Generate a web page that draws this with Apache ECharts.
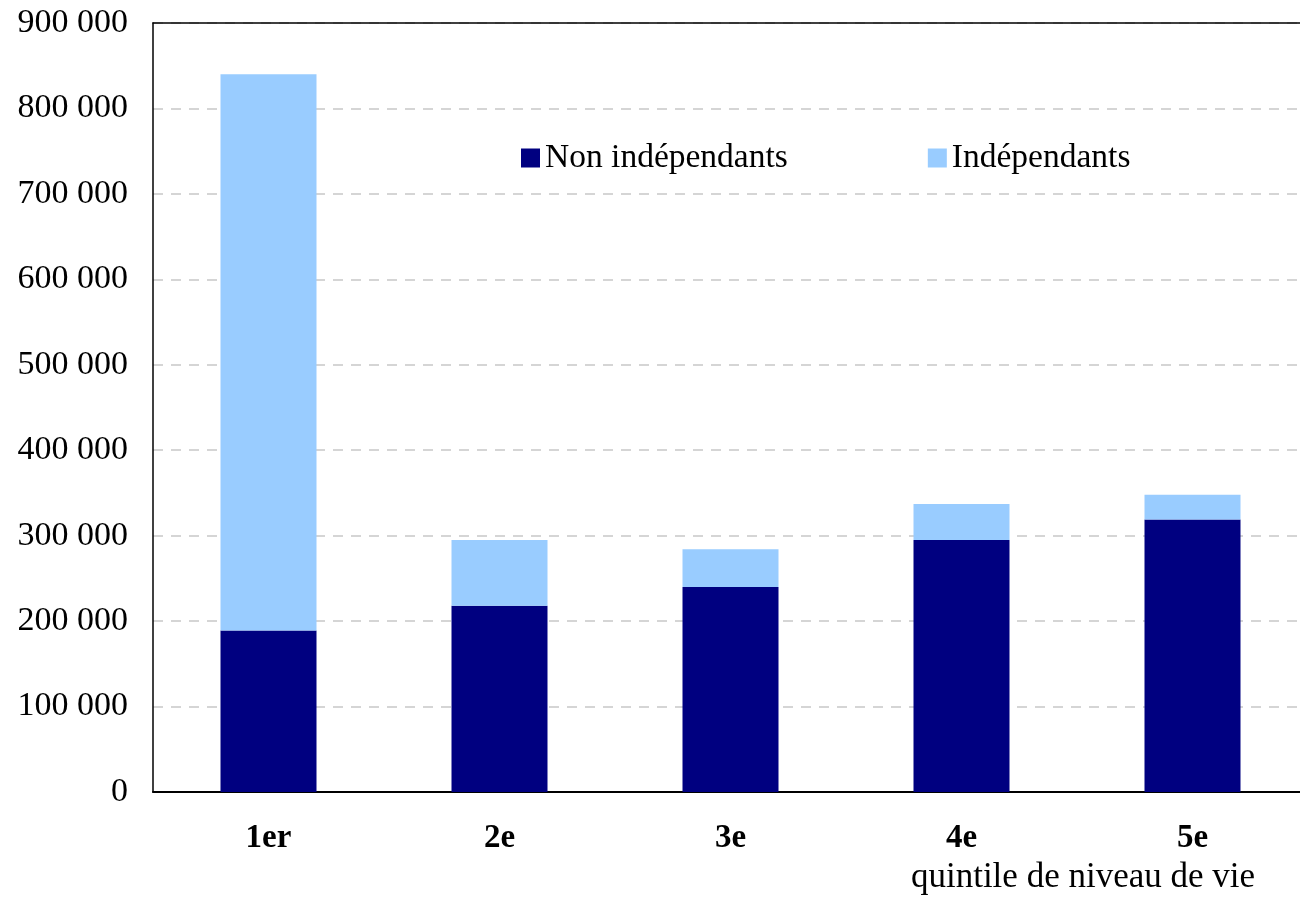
<!DOCTYPE html>
<html>
<head>
<meta charset="utf-8">
<script src="https://cdn.jsdelivr.net/npm/echarts@6/dist/echarts.min.js"></script>
<style>
  html, body { margin: 0; padding: 0; background: #fff; }
  #chart { width: 1300px; height: 915px; }
</style>
</head>
<body>
<div id="chart"></div>
<script>
const categories = ['1er', '2e', '3e', '4e', '5e']
const nonIndependants = [189000, 218000, 240000, 295000, 319000]
const independants = [651000, 77000, 44000, 42000, 29000]
const yTicks = [0, 100000, 200000, 300000, 400000, 500000, 600000, 700000, 800000, 900000]

const fontFamily = '"Liberation Serif", "Times New Roman", serif'

// 900000 -> "900 000"
function fmt(v) {
  return String(v).replace(/\B(?=(\d{3})+(?!\d))/g, ' ')
}

let option = {
  animation: false,
  grid: {
    left: 153,
    top: 23,
    width: 1155,
    height: 769,
    outerBoundsMode: 'none',
    containLabel: false
  },
  legend: {
    data: ['Non indépendants', 'Indépendants'],
    left: 516,
    top: 136,
    icon: 'rect',
    itemWidth: 19,
    itemHeight: 19,
    itemGap: 140,
    textStyle: {
      fontFamily: fontFamily,
      fontSize: 33.5,
      color: '#000'
    }
  },
  xAxis: [
    {
      type: 'category',
      data: categories,
      axisTick: { show: false },
      axisLine: {
        lineStyle: { color: '#000', width: 2 }
      },
      axisLabel: {
        margin: 30,
        fontFamily: fontFamily,
        fontSize: 33,
        fontWeight: 'bold',
        color: '#000'
      }
    },
    {
      // top border of the plot
      type: 'category',
      position: 'top',
      data: categories,
      axisTick: { show: false },
      axisLabel: { show: false },
      axisLine: {
        lineStyle: { color: '#000', width: 1.5 }
      }
    }
  ],
  yAxis: {
    type: 'value',
    min: yTicks[0],
    max: yTicks[yTicks.length - 1],
    interval: 100000,
    axisLine: {
      show: true,
      lineStyle: { color: '#000', width: 1.5 }
    },
    axisTick: { show: false },
    axisLabel: {
      margin: 25,
      fontFamily: fontFamily,
      fontSize: 34,
      color: '#000',
      formatter: fmt
    },
    splitLine: {
      lineStyle: { color: '#c8c8c8', type: [10, 8], width: 1.5 }
    }
  },
  graphic: [
    {
      type: 'text',
      right: 45,
      top: 860,
      style: {
        text: 'quintile de niveau de vie',
        fontFamily: fontFamily,
        fontSize: 35,
        fill: '#000'
      }
    }
  ],
  series: [
    {
      name: 'Non indépendants',
      type: 'bar',
      stack: 'total',
      barWidth: 96,
      itemStyle: { color: '#000080' },
      data: nonIndependants
    },
    {
      name: 'Indépendants',
      type: 'bar',
      stack: 'total',
      barWidth: 96,
      itemStyle: { color: '#99ccff' },
      data: independants
    }
  ]
}

var myChart = echarts.init(document.getElementById('chart'))
myChart.setOption(option)
</script>
</body>
</html>
